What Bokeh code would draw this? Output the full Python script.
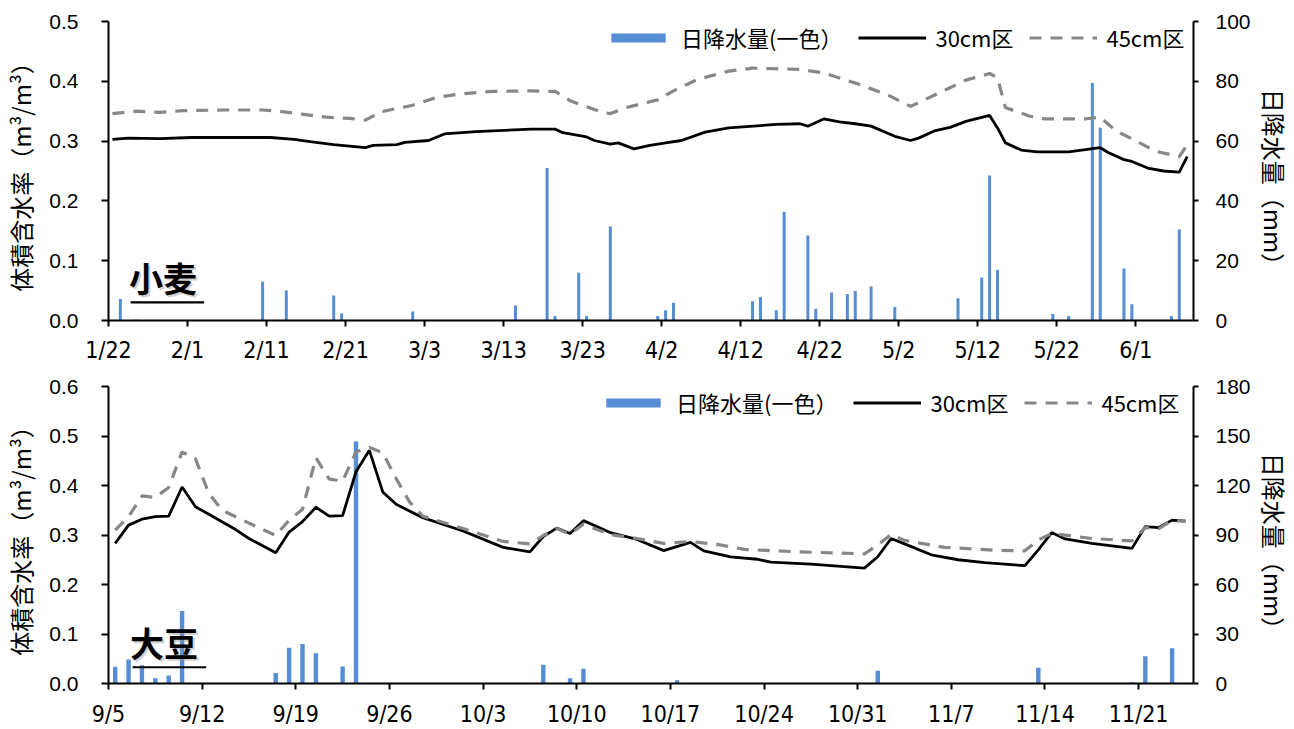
import datetime as dt
from bokeh.plotting import figure
from bokeh.models import (Range1d, LinearAxis, FixedTicker, Legend, LegendItem,
                          Label, BoxAnnotation, PrintfTickFormatter)
from bokeh.layouts import column
from bokeh.embed import file_html
from bokeh.resources import INLINE

# ---------------- data: wheat (小麦) ----------------
wheat_year = 2019
wheat_start = "1/22"
wheat_xticks = ["1/22", "2/1", "2/11", "2/21", "3/3", "3/13", "3/23", "4/2",
                "4/12", "4/22", "5/2", "5/12", "5/22", "6/1"]
wheat_days_span = 137.3
wheat_rain_dates = ["1/23", "1/25", "2/10", "2/13", "2/19", "2/20", "3/1", "3/14",
                    "3/18", "3/19", "3/22", "3/23", "3/26", "4/1", "4/2", "4/3",
                    "4/13", "4/14", "4/16", "4/17", "4/20", "4/21", "4/23", "4/25",
                    "4/26", "4/28", "5/1", "5/9", "5/12", "5/13", "5/14", "5/21",
                    "5/23", "5/26", "5/27", "5/30", "5/31", "6/5", "6/6"]
wheat_rain_mm = [7.2, 0.3, 13.0, 10.0, 8.4, 2.3, 3.0, 5.0,
                 51.0, 1.5, 16.0, 1.5, 31.4, 1.5, 3.4, 5.9,
                 6.4, 7.9, 3.4, 36.4, 28.4, 3.9, 9.4, 8.9,
                 9.9, 11.4, 4.5, 7.4, 14.4, 48.5, 16.9, 2.2,
                 1.5, 79.4, 64.5, 17.4, 5.4, 1.5, 30.4]
wheat_30_dates = ["1/22", "1/24", "1/28", "2/1", "2/11", "2/14", "2/16", "2/19",
                  "2/23", "2/24", "2/27", "2/28", "3/3", "3/5", "3/9", "3/16",
                  "3/19", "3/20", "3/23", "3/24", "3/26", "3/27", "3/29", "3/31",
                  "4/2", "4/4", "4/7", "4/10", "4/16", "4/19", "4/20", "4/22",
                  "4/24", "4/26", "4/28", "5/1", "5/3", "5/4", "5/6", "5/8",
                  "5/10", "5/13", "5/14", "5/15", "5/17", "5/19", "5/23", "5/27",
                  "5/28", "5/30", "5/31", "6/2", "6/4", "6/6", "6/7"]
wheat_30_vals = [0.303, 0.305, 0.304, 0.306, 0.306, 0.303, 0.299, 0.294,
                 0.289, 0.293, 0.294, 0.298, 0.301, 0.312, 0.316, 0.320,
                 0.320, 0.314, 0.307, 0.301, 0.295, 0.297, 0.287, 0.293,
                 0.297, 0.301, 0.315, 0.322, 0.328, 0.329, 0.325, 0.337,
                 0.332, 0.329, 0.325, 0.308, 0.301, 0.305, 0.317, 0.323,
                 0.333, 0.343, 0.322, 0.297, 0.285, 0.282, 0.282, 0.289,
                 0.281, 0.269, 0.266, 0.255, 0.250, 0.248, 0.274]
wheat_45_dates = ["1/22", "1/25", "1/28", "1/31", "2/5", "2/10", "2/12", "2/15",
                  "2/18", "2/21", "2/23", "2/25", "3/1", "3/4", "3/7", "3/11",
                  "3/16", "3/19", "3/21", "3/25", "3/26", "3/28", "4/1", "4/3",
                  "4/6", "4/10", "4/13", "4/19", "4/22", "4/26", "4/30", "5/3",
                  "5/7", "5/10", "5/13", "5/14", "5/15", "5/18", "5/20", "5/25",
                  "5/27", "5/29", "6/1", "6/3", "6/6", "6/7"]
wheat_45_vals = [0.346, 0.350, 0.348, 0.351, 0.352, 0.352, 0.350, 0.345,
                 0.340, 0.338, 0.335, 0.349, 0.360, 0.373, 0.379, 0.383,
                 0.384, 0.383, 0.367, 0.348, 0.346, 0.356, 0.369, 0.384,
                 0.403, 0.417, 0.422, 0.420, 0.414, 0.397, 0.378, 0.358,
                 0.383, 0.402, 0.413, 0.406, 0.356, 0.342, 0.337, 0.337,
                 0.340, 0.317, 0.297, 0.283, 0.274, 0.294]
wheat_left_ticks = [0.0, 0.1, 0.2, 0.3, 0.4, 0.5]
wheat_right_ticks = [0, 20, 40, 60, 80, 100]

# ---------------- data: soybean (大豆) ----------------
soy_year = 2018
soy_start = "9/5"
soy_xticks = ["9/5", "9/12", "9/19", "9/26", "10/3", "10/10", "10/17", "10/24",
              "10/31", "11/7", "11/14", "11/21"]
soy_days_span = 81.1
soy_rain_dates = ["9/5", "9/6", "9/7", "9/8", "9/9", "9/10", "9/17", "9/18",
                  "9/19", "9/20", "9/22", "9/23", "10/7", "10/9", "10/10", "10/17",
                  "11/1", "11/13", "11/20", "11/21", "11/23"]
soy_rain_mm = [10.1, 14.5, 11.0, 3.2, 4.8, 43.9, 6.4, 21.7,
               24.0, 18.3, 10.3, 146.6, 11.3, 3.2, 8.9, 2.0,
               7.7, 9.5, 0.8, 16.5, 21.3]
soy_30_dates = ["9/5", "9/6", "9/7", "9/8", "9/9", "9/10", "9/11", "9/12",
                "9/14", "9/15", "9/17", "9/18", "9/19", "9/20", "9/21", "9/22",
                "9/23", "9/24", "9/25", "9/26", "9/28", "10/1", "10/4", "10/6",
                "10/7", "10/8", "10/9", "10/10", "10/12", "10/14", "10/16", "10/18",
                "10/19", "10/21", "10/23", "10/24", "10/27", "10/31", "11/1", "11/2",
                "11/3", "11/5", "11/7", "11/9", "11/12", "11/13", "11/14", "11/15",
                "11/17", "11/20", "11/21", "11/22", "11/23", "11/24"]
soy_30_vals = [0.283, 0.320, 0.332, 0.337, 0.338, 0.397, 0.357, 0.342,
               0.311, 0.293, 0.264, 0.306, 0.327, 0.356, 0.338, 0.339,
               0.428, 0.471, 0.387, 0.362, 0.335, 0.308, 0.275, 0.266,
               0.297, 0.314, 0.303, 0.329, 0.305, 0.291, 0.2685, 0.285,
               0.268, 0.256, 0.251, 0.245, 0.241, 0.233, 0.256, 0.293,
               0.282, 0.260, 0.250, 0.244, 0.238, 0.270, 0.305, 0.292,
               0.283, 0.273, 0.317, 0.315, 0.330, 0.328]
soy_45_dates = ["9/5", "9/6", "9/7", "9/8", "9/9", "9/10", "9/11", "9/12",
                "9/13", "9/15", "9/17", "9/18", "9/19", "9/20", "9/21", "9/22",
                "9/23", "9/24", "9/25", "9/26", "9/27", "9/28", "10/1", "10/4",
                "10/6", "10/7", "10/8", "10/9", "10/10", "10/12", "10/14", "10/16",
                "10/18", "10/20", "10/22", "10/26", "10/31", "11/1", "11/2", "11/3",
                "11/6", "11/10", "11/12", "11/13", "11/14", "11/17", "11/20", "11/21",
                "11/22", "11/23", "11/24"]
soy_45_vals = [0.310, 0.337, 0.379, 0.376, 0.396, 0.468, 0.454, 0.384,
               0.350, 0.324, 0.299, 0.330, 0.352, 0.456, 0.413, 0.409,
               0.468, 0.477, 0.466, 0.414, 0.367, 0.338, 0.313, 0.287,
               0.282, 0.299, 0.313, 0.302, 0.322, 0.301, 0.293, 0.283,
               0.287, 0.281, 0.271, 0.266, 0.262, 0.280, 0.301, 0.289,
               0.275, 0.269, 0.268, 0.290, 0.303, 0.293, 0.288, 0.315,
               0.313, 0.329, 0.328]
soy_left_ticks = [0.0, 0.1, 0.2, 0.3, 0.4, 0.5, 0.6]
soy_right_ticks = [0, 30, 60, 90, 120, 150, 180]

# ---------------- text ----------------
legend_rain = "日降水量(一色）"
legend_30 = "30cm区"
legend_45 = "45cm区"
left_title = "体積含水率（m³/m³）"
right_title = "\u3000日降水量（mm）"

CJK = "Noto Sans CJK JP"
NUM = "Liberation Sans"
XTICK_FONT = "Liberation Sans Narrow, DejaVu Sans Condensed, Noto Sans CJK JP"
BAR = "#558ED5"


def day_of(md, year, start):
    m, d = (int(v) for v in md.split("/"))
    sm, sd = (int(v) for v in start.split("/"))
    return (dt.date(year, m, d) - dt.date(year, sm, sd)).days


def slot(dates, year, start):
    # Excel-like date axis: each day occupies one slot, value drawn at slot centre
    return [day_of(s, year, start) + 0.5 for s in dates]


def panel(year, start, xticks, span, rain_d, rain_v, d30, v30, d45, v45,
          lticks, rticks, height, frame_top, bottom_border, left_b, right_b,
          bar_w, xstand, legend_xy):
    ymax = lticks[-1]
    rmax = rticks[-1]
    p = figure(width=1294, height=height, output_backend="svg", toolbar_location=None,
               x_range=Range1d(0, span), y_range=Range1d(0, ymax),
               min_border_top=frame_top, min_border_bottom=bottom_border,
               min_border_left=left_b, min_border_right=right_b)
    p.outline_line_color = None
    p.xgrid.grid_line_color = None
    p.ygrid.grid_line_color = None
    p.background_fill_color = "white"
    p.extra_y_ranges = {"rain": Range1d(0, rmax)}

    bars = p.vbar(x=slot(rain_d, year, start), top=rain_v, width=bar_w, bottom=0,
                  y_range_name="rain", fill_color=BAR, line_color=None)
    l30 = p.line(slot(d30, year, start), v30, line_color="black", line_width=2.8)
    l45 = p.line(slot(d45, year, start), v45, line_color="#878787", line_width=3.2,
                 line_dash="12 9")

    # x axis
    xa = p.xaxis[0]
    tick_pos = [day_of(t, year, start) for t in xticks]
    xa.ticker = FixedTicker(ticks=tick_pos)
    xa.major_label_overrides = {tp: t for tp, t in zip(tick_pos, xticks)}
    xa.minor_tick_line_color = None
    xa.major_tick_in = 0
    xa.major_tick_out = 6
    xa.axis_line_width = 2
    xa.major_tick_line_width = 2
    xa.axis_line_color = "black"
    xa.major_label_text_font = XTICK_FONT
    xa.major_label_text_font_size = "23px"
    xa.major_label_text_color = "black"
    xa.major_label_standoff = xstand

    # left axis
    ya = p.yaxis[0]
    ya.ticker = FixedTicker(ticks=lticks)
    ya.formatter = PrintfTickFormatter(format="%.1f")
    ya.minor_tick_line_color = None
    ya.major_tick_in = 0
    ya.major_tick_out = 7
    ya.axis_line_width = 2
    ya.major_tick_line_width = 2
    ya.major_label_text_font = NUM
    ya.major_label_text_font_size = "21px"
    ya.major_label_text_color = "black"
    ya.major_label_standoff = 23
    ya.axis_label = left_title
    ya.axis_label_text_font = CJK
    ya.axis_label_text_font_size = "24px"
    ya.axis_label_text_font_style = "normal"
    ya.axis_label_text_color = "black"
    ya.axis_label_standoff = 8

    # right axis
    ra = LinearAxis(y_range_name="rain", ticker=FixedTicker(ticks=rticks))
    ra.minor_tick_line_color = None
    ra.major_tick_in = 0
    ra.major_tick_out = 5
    ra.axis_line_width = 2
    ra.major_tick_line_width = 2
    ra.major_label_text_font = NUM
    ra.major_label_text_font_size = "21px"
    ra.major_label_text_color = "black"
    ra.major_label_standoff = 17
    ra.axis_label = right_title
    ra.axis_label_text_font = CJK
    ra.axis_label_text_font_size = "24px"
    ra.axis_label_text_font_style = "normal"
    ra.axis_label_text_color = "black"
    ra.axis_label_standoff = 3
    p.add_layout(ra, "right")

    legend = Legend(items=[LegendItem(label=legend_rain, renderers=[bars]),
                           LegendItem(label=legend_30, renderers=[l30]),
                           LegendItem(label=legend_45, renderers=[l45])],
                    orientation="horizontal", location=legend_xy)
    legend.label_text_font = CJK
    legend.label_text_font_size = "22px"
    legend.label_text_color = "black"
    legend.glyph_width = 68
    legend.glyph_height = 11
    legend.label_standoff = 9
    legend.spacing = 16
    legend.padding = 0
    legend.margin = 0
    legend.border_line_color = None
    legend.background_fill_alpha = 0
    p.add_layout(legend)
    return p


p1 = panel(wheat_year, wheat_start, wheat_xticks, wheat_days_span,
           wheat_rain_dates, wheat_rain_mm, wheat_30_dates, wheat_30_vals,
           wheat_45_dates, wheat_45_vals, wheat_left_ticks, wheat_right_ticks,
           height=365, frame_top=21, bottom_border=45, left_b=104, right_b=98,
           bar_w=0.38, xstand=10, legend_xy=(496, 267))
p2 = panel(soy_year, soy_start, soy_xticks, soy_days_span,
           soy_rain_dates, soy_rain_mm, soy_30_dates, soy_30_vals,
           soy_45_dates, soy_45_vals, soy_left_ticks, soy_right_ticks,
           height=364, frame_top=21, bottom_border=44, left_b=105, right_b=101,
           bar_w=0.33, xstand=11, legend_xy=(491, 265))


# crop labels with underline and a soft shadow
def crop_label(p, text, x, y, ul_left, ul_right, ul_bottom, ul_top):
    p.add_layout(Label(x=x, y=y, x_offset=2, y_offset=-2, text=text, text_font=CJK,
                       text_font_size="34px", text_font_style="bold",
                       text_color="#9a9a9a", text_alpha=0.45, text_baseline="bottom"))
    p.add_layout(Label(x=x, y=y, text=text, text_font=CJK, text_font_size="34px",
                       text_font_style="bold", text_color="black",
                       text_baseline="bottom"))
    p.add_layout(BoxAnnotation(left=ul_left, right=ul_right, bottom=ul_bottom,
                               top=ul_top, fill_color="black", fill_alpha=1.0,
                               line_color=None))


crop_label(p1, "小麦", 2.6, 0.031, 2.8, 12.1, 0.0285, 0.0320)
crop_label(p2, "大豆", 1.6, 0.034, 1.8, 7.3, 0.0310, 0.0350)

layout = column(p1, p2, spacing=0)
open("out.html", "w").write(file_html(layout, INLINE))
